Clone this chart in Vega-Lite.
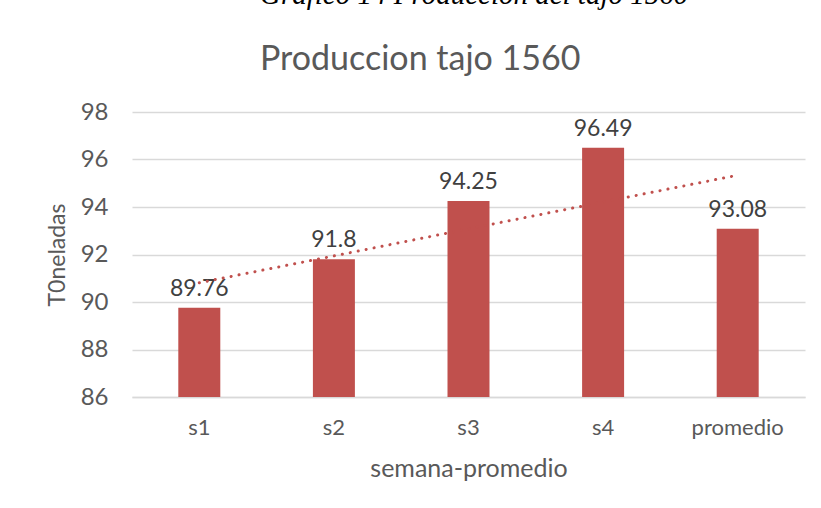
{
  "$schema": "https://vega.github.io/schema/vega-lite/v6.json",
  "width": 673,
  "height": 285,
  "autosize": {"type": "none"},
  "padding": {"left": 132, "top": 112, "right": 16, "bottom": 111},
  "background": "white",
  "title": {
    "text": "Gráfico 14 Producción del tajo 1560",
    "subtitle": "Produccion tajo 1560",
    "anchor": "start",
    "frame": "group",
    "dx": 128,
    "offset": 23,
    "font": "Liberation Serif",
    "fontSize": 29,
    "fontStyle": "italic",
    "fontWeight": "normal",
    "color": "#000000",
    "subtitleFont": "Lato",
    "subtitleFontSize": 34,
    "subtitleColor": "#595959",
    "subtitlePadding": 33
  },
  "data": {
    "values": [
      {"semana": "s1", "toneladas": 89.76, "tendencia": 90.81},
      {"semana": "s2", "toneladas": 91.8, "tendencia": 91.94},
      {"semana": "s3", "toneladas": 94.25, "tendencia": 93.08},
      {"semana": "s4", "toneladas": 96.49, "tendencia": 94.21},
      {"semana": "promedio", "toneladas": 93.08, "tendencia": 95.34}
    ]
  },
  "encoding": {
    "x": {
      "field": "semana",
      "type": "nominal",
      "sort": null,
      "scale": {"paddingInner": 0, "paddingOuter": 0},
      "title": "semana-promedio",
      "axis": {
        "labelAngle": 0,
        "labelFont": "Lato",
        "labelFontSize": 22,
        "labelColor": "#595959",
        "labelPadding": 20,
        "ticks": false,
        "domainColor": "#d9d9d9",
        "domainWidth": 1.5,
        "titleFont": "Lato",
        "titleFontSize": 25,
        "titleFontWeight": "normal",
        "titleColor": "#595959",
        "titlePadding": 18,
        "grid": false
      }
    }
  },
  "layer": [
    {
      "mark": {"type": "bar", "color": "#C0504D", "width": {"band": 0.312}, "clip": true},
      "encoding": {
        "y": {
          "field": "toneladas",
          "type": "quantitative",
          "scale": {"domain": [86, 98], "zero": false, "nice": false},
          "title": "T0neladas",
          "axis": {
            "values": [86, 88, 90, 92, 94, 96, 98],
            "labelFont": "Lato",
            "labelFontSize": 24,
            "labelColor": "#595959",
            "labelPadding": 24,
            "ticks": false,
            "domain": false,
            "gridColor": "#d9d9d9",
            "gridWidth": 1.5,
            "titleFont": "Lato",
            "titleFontSize": 23,
            "titleFontWeight": "normal",
            "titleColor": "#595959",
            "titlePadding": 11
          }
        }
      }
    },
    {
      "mark": {"type": "text", "baseline": "bottom", "dy": -7, "font": "Lato", "fontSize": 23, "color": "#404040"},
      "encoding": {
        "y": {"field": "toneladas", "type": "quantitative"},
        "text": {"field": "toneladas", "type": "quantitative"}
      }
    },
    {
      "mark": {"type": "line", "color": "#C0504D", "strokeWidth": 3, "strokeDash": [0.1, 8], "strokeCap": "round"},
      "encoding": {
        "y": {"field": "tendencia", "type": "quantitative"}
      }
    }
  ],
  "config": {"view": {"stroke": null}}
}
